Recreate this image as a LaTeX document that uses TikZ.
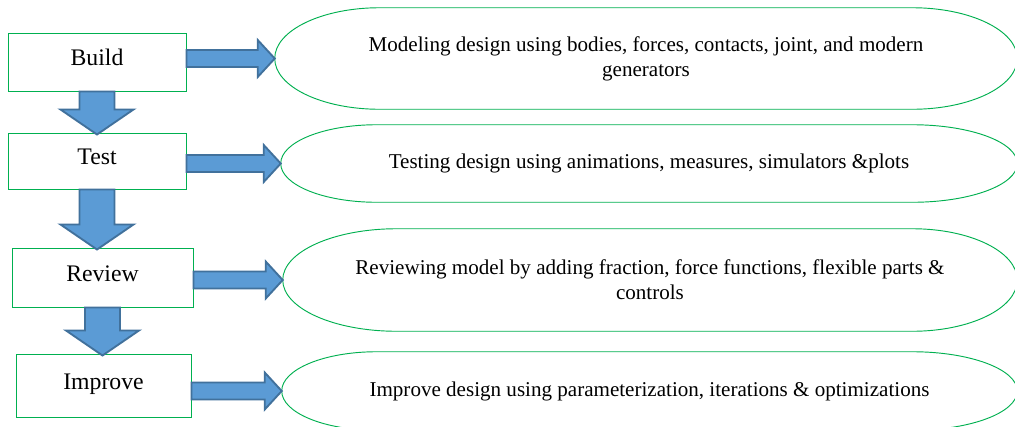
\documentclass[tikz,border=0pt]{standalone}
\usepackage{fontspec}
\setmainfont{Liberation Serif}
\usetikzlibrary{calc}

\definecolor{boxgreen}{RGB}{0,176,80}
\definecolor{arrowfill}{RGB}{91,155,213}
\definecolor{arrowline}{RGB}{65,113,156}

% capsule outline around a node: flat top and bottom, half-ellipse ends
% #1 node name, #2 left end radius, #3 right end radius
\newcommand\capsule[3]{%
  \draw[capline]
    ($(#1.north west)+(#2,0)$) -- ($(#1.north east)+(-#3,0)$)
    .. controls ($(#1.north east)+({-0.4477*#3},0)$) and ($(#1.east)!0.5523!(#1.north east)$) .. (#1.east)
    .. controls ($(#1.east)!0.5523!(#1.south east)$) and ($(#1.south east)+({-0.4477*#3},0)$) .. ($(#1.south east)+(-#3,0)$)
    -- ($(#1.south west)+(#2,0)$)
    .. controls ($(#1.south west)+({0.4477*#2},0)$) and ($(#1.west)!0.5523!(#1.south west)$) .. (#1.west)
    .. controls ($(#1.west)!0.5523!(#1.north west)$) and ($(#1.north west)+({0.4477*#2},0)$) .. cycle;}

% block arrow pointing right, from a box to the tip of a capsule
\newcommand\rightblock[2]{%
  \draw[blockarrow] let \p1=(#1.east), \p2=(#2.west) in
    (\x1,\y2+6.375pt) -- (\x2-12.75pt,\y2+6.375pt) -- (\x2-12.75pt,\y2+13.875pt)
    -- (\x2,\y2) -- (\x2-12.75pt,\y2-13.875pt) -- (\x2-12.75pt,\y2-6.375pt)
    -- (\x1,\y2-6.375pt) -- cycle;}

% block arrow pointing down, from one box to the next
\newcommand\downblock[2]{%
  \draw[blockarrow] let \p1=(#1.south), \p2=(#2.north) in
    (\x1-13.125pt,\y1) -- (\x1-13.125pt,\y2+17.25pt) -- (\x1-27.375pt,\y2+17.25pt)
    -- (\x1,\y2-1.5pt) -- (\x1+27.375pt,\y2+17.25pt) -- (\x1+13.125pt,\y2+17.25pt)
    -- (\x1+13.125pt,\y1) -- cycle;}

\begin{document}
\begin{tikzpicture}[x=0.75pt,y=-0.75pt,
  stagebox/.style={draw=boxgreen, line width=0.75pt, fill=white, rectangle,
    inner sep=0pt, font=\fontsize{17.8}{21}\selectfont,
    text height=12.5pt, text depth=6.8pt},
  note/.style={rectangle, inner sep=0pt, align=center,
    font=\fontsize{15.8}{18.8}\selectfont},
  capline/.style={draw=boxgreen, line width=0.7pt},
  blockarrow/.style={fill=arrowfill, draw=arrowline, line width=1.4pt, line join=miter}]

\fill[white] (0,0) rectangle (1015,426);
\clip (0,0) rectangle (1015,426);

% process steps
\node[stagebox, minimum width=133.5pt, minimum height=43.5pt] (build) at (97,62) {Build};
\node[stagebox, minimum width=133.5pt, minimum height=42pt] (test) at (97,161) {Test};
\node[stagebox, minimum width=135.75pt, minimum height=44.25pt] (review) at (102.5,277.5) {Review};
\node[stagebox, minimum width=131.25pt, minimum height=47.25pt] (improve) at (103.5,385.5) {Improve};

% descriptions
\node[note, minimum width=556.5pt, minimum height=75.75pt] (e1) at (646,58.5)
  {Modeling design using bodies, forces, contacts, joint, and modern\\generators};
\node[note, minimum width=552pt, minimum height=57.75pt] (e2) at (649,163.5)
  {Testing design using animations, measures, simulators \&plots};
\node[note, minimum width=550.5pt, minimum height=76.5pt] (e3) at (650,280)
  {Reviewing model by adding fraction, force functions, flexible parts \&\\controls};
\node[note, minimum width=551.25pt, minimum height=58.5pt] (e4) at (649.5,391)
  {Improve design using parameterization, iterations \& optimizations};

\capsule{e1}{78.75pt}{78.75pt}
\capsule{e2}{72pt}{78.75pt}
\capsule{e3}{85.5pt}{78.75pt}
\capsule{e4}{71.25pt}{78.75pt}

% flow between steps
\downblock{build}{test}
\downblock{test}{review}
\downblock{review}{improve}

% step to description
\rightblock{build}{e1}
\rightblock{test}{e2}
\rightblock{review}{e3}
\rightblock{improve}{e4}
\end{tikzpicture}
\end{document}
